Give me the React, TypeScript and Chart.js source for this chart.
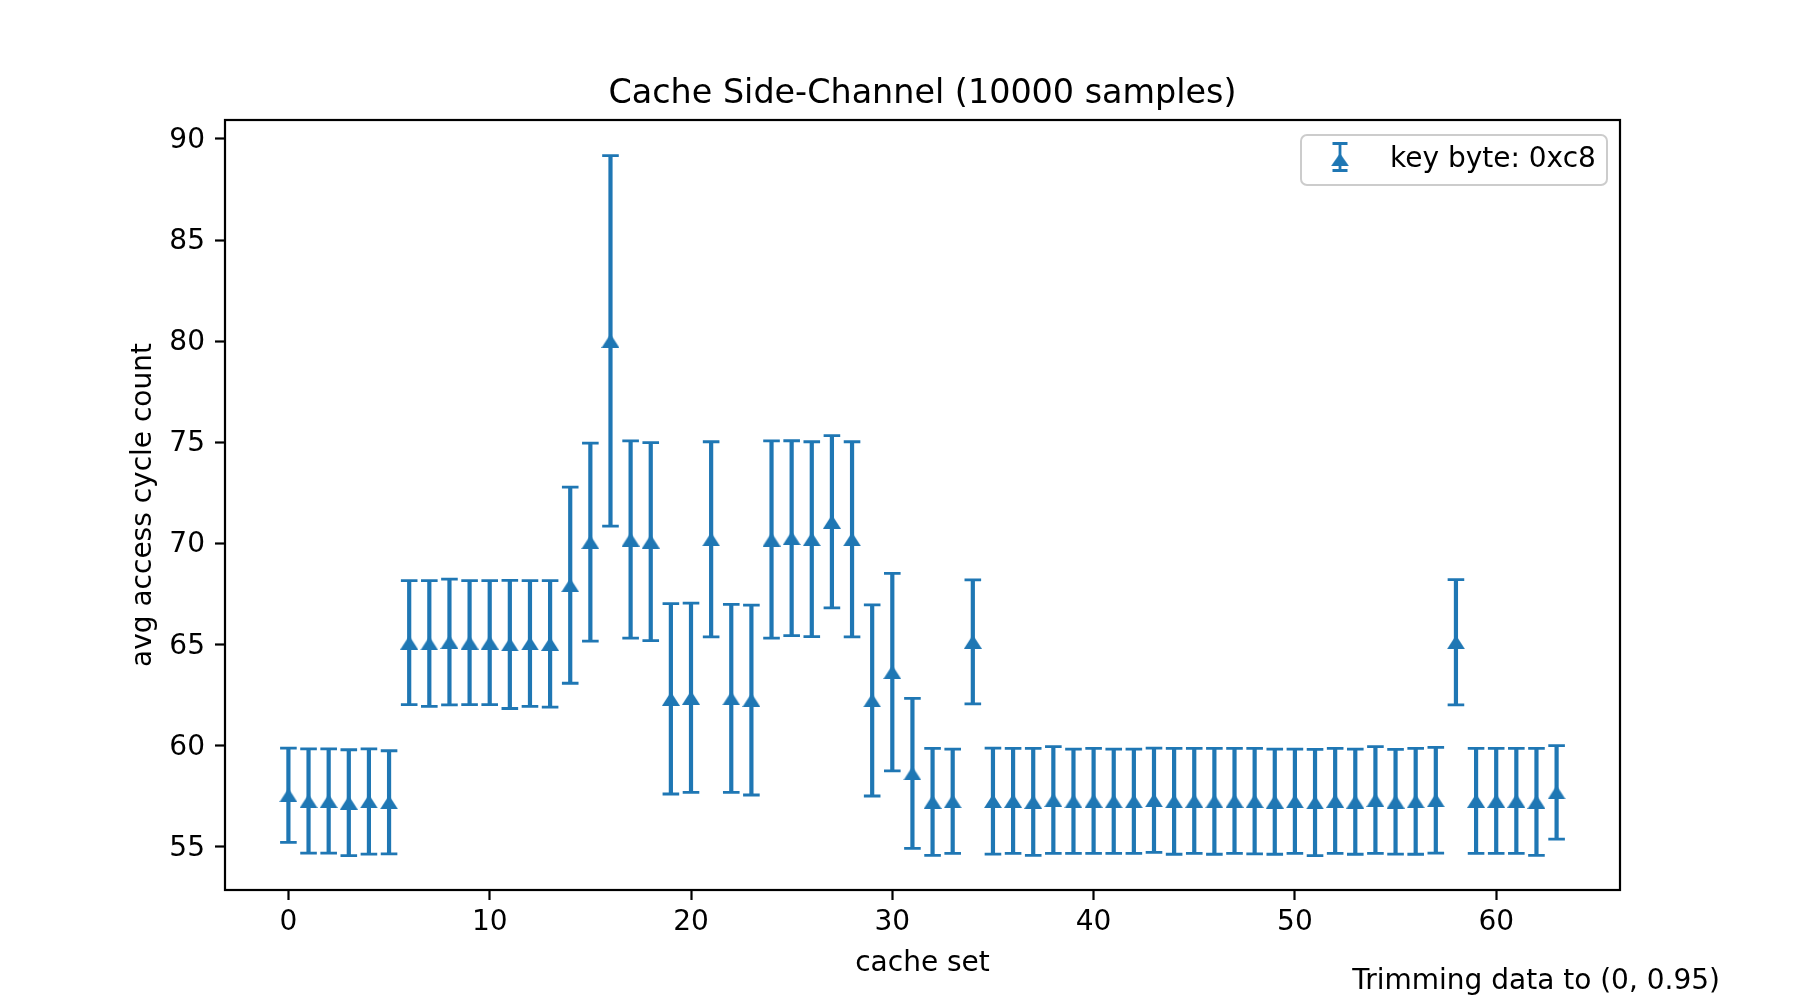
import React, { useEffect, useRef } from "react";
import { Chart, registerables } from "chart.js";

Chart.register(...registerables);

// ---------------- data ----------------
const cacheSets = [
  0, 1, 2, 3, 4, 5, 6, 7, 8, 9, 10, 11, 12, 13, 14, 15,
  16, 17, 18, 19, 20, 21, 22, 23, 24, 25, 26, 27, 28, 29, 30, 31,
  32, 33, 34, 35, 36, 37, 38, 39, 40, 41, 42, 43, 44, 45, 46, 47,
  48, 49, 50, 51, 52, 53, 54, 55, 56, 57, 58, 59, 60, 61, 62, 63,
];

const avgCycles = [
  57.53, 57.24, 57.24, 57.16, 57.22, 57.18, 65.08, 65.04,
  65.11, 65.08, 65.08, 64.99, 65.04, 65.02, 67.92, 70.05,
  80.01, 70.18, 70.08, 62.30, 62.35, 70.19, 62.32, 62.24,
  70.18, 70.25, 70.20, 71.06, 70.19, 62.22, 63.62, 58.61,
  57.20, 57.23, 65.12, 57.24, 57.25, 57.20, 57.29, 57.23,
  57.25, 57.23, 57.23, 57.28, 57.23, 57.25, 57.23, 57.25,
  57.24, 57.21, 57.23, 57.17, 57.25, 57.21, 57.29, 57.21,
  57.23, 57.28, 65.10, 57.25, 57.25, 57.25, 57.20, 57.67,
];

const errCycles = [
  2.33, 2.58, 2.58, 2.62, 2.60, 2.55, 3.07, 3.11,
  3.11, 3.07, 3.07, 3.17, 3.11, 3.13, 4.85, 4.90,
  9.17, 4.88, 4.90, 4.71, 4.68, 4.83, 4.65, 4.70,
  4.88, 4.82, 4.82, 4.26, 4.83, 4.73, 4.89, 3.71,
  2.65, 2.58, 3.07, 2.62, 2.60, 2.65, 2.64, 2.58,
  2.60, 2.58, 2.58, 2.58, 2.62, 2.60, 2.62, 2.60,
  2.61, 2.60, 2.58, 2.63, 2.60, 2.60, 2.64, 2.59,
  2.62, 2.62, 3.10, 2.60, 2.60, 2.60, 2.65, 2.31,
];

const xTickValues = [0, 10, 20, 30, 40, 50, 60];
const yTickValues = [55, 60, 65, 70, 75, 80, 85, 90];

const titleText = "Cache Side-Channel (10000 samples)";
const xLabel = "cache set";
const yLabel = "avg access cycle count";
const legendLabel = "key byte: 0xc8";
const footerText = "Trimming data to (0, 0.95)";

// ---------------- styles ----------------
const BLUE = "#1f77b4";
const FAMILY = "'DejaVu Sans', sans-serif";
const TICK_SIZE = 28;
const TITLE_SIZE = 33.4;

function makeTriangle(w: number, h: number): HTMLCanvasElement {
  const c = document.createElement("canvas");
  c.width = w;
  c.height = h;
  const g = c.getContext("2d")!;
  g.fillStyle = BLUE;
  g.beginPath();
  g.moveTo(w / 2, 0);
  g.lineTo(w, h);
  g.lineTo(0, h);
  g.closePath();
  g.fill();
  return c;
}

function drawErrorBar(
  ctx: CanvasRenderingContext2D,
  px: number,
  top: number,
  bot: number,
  capHalf: number,
  stemWidth: number
) {
  ctx.lineWidth = stemWidth;
  ctx.beginPath();
  ctx.moveTo(px, top);
  ctx.lineTo(px, bot);
  ctx.stroke();
  ctx.lineWidth = 2.8;
  ctx.beginPath();
  ctx.moveTo(px - capHalf, top);
  ctx.lineTo(px + capHalf, top);
  ctx.moveTo(px - capHalf, bot);
  ctx.lineTo(px + capHalf, bot);
  ctx.stroke();
}

export default function App() {
  const ref = useRef<HTMLCanvasElement | null>(null);

  useEffect(() => {
    document.body.style.margin = "0";
    const canvas = ref.current;
    if (!canvas) return;
    const tri = makeTriangle(18, 14);
    const legendTri = makeTriangle(18, 13);

    const overlay = {
      id: "errorbarsAndDecor",
      beforeDatasetsDraw(chart: any) {
        const { ctx, scales } = chart;
        const xs = scales.x;
        const ys = scales.y;
        ctx.save();
        ctx.strokeStyle = BLUE;
        ctx.lineCap = "butt";
        cacheSets.forEach((cs, i) => {
          const px = xs.getPixelForValue(cs);
          const top = ys.getPixelForValue(avgCycles[i] + errCycles[i]);
          const bot = ys.getPixelForValue(avgCycles[i] - errCycles[i]);
          drawErrorBar(ctx, px, top, bot, 8.3, 4.2);
        });
        ctx.restore();
      },
      afterDraw(chart: any) {
        const { ctx, chartArea } = chart;
        ctx.save();
        // frame
        ctx.strokeStyle = "#000";
        ctx.lineWidth = 2.2;
        ctx.strokeRect(
          chartArea.left,
          chartArea.top,
          chartArea.right - chartArea.left,
          chartArea.bottom - chartArea.top
        );

        // title
        ctx.fillStyle = "#000";
        ctx.font = `${TITLE_SIZE}px ${FAMILY}`;
        ctx.textAlign = "center";
        ctx.textBaseline = "alphabetic";
        ctx.fillText(titleText, (chartArea.left + chartArea.right) / 2, chartArea.top - 17);

        // legend
        const lx = chartArea.right - 319;
        const ly = chartArea.top + 15;
        const lw = 306;
        const lh = 50;
        ctx.beginPath();
        ctx.roundRect(lx, ly, lw, lh, 6);
        ctx.fillStyle = "rgba(255,255,255,0.8)";
        ctx.fill();
        ctx.strokeStyle = "#cccccc";
        ctx.lineWidth = 2;
        ctx.stroke();
        const gx = lx + 39;
        ctx.strokeStyle = BLUE;
        drawErrorBar(ctx, gx, ly + 8.5, ly + 35.5, 7.5, 2.8);
        ctx.drawImage(legendTri, gx - legendTri.width / 2, ly + 24.7 - legendTri.height / 2);
        ctx.fillStyle = "#000";
        ctx.font = `${TICK_SIZE}px ${FAMILY}`;
        ctx.textAlign = "left";
        ctx.fillText(legendLabel, lx + 89, ly + 32);

        // footer
        ctx.textAlign = "right";
        ctx.fillText(footerText, 1720, 989);
        ctx.restore();
      },
    };

    const chart = new Chart(canvas, {
      type: "scatter",
      data: {
        datasets: [
          {
            label: legendLabel,
            data: cacheSets.map((cs, i) => ({ x: cs, y: avgCycles[i] })),
            pointStyle: tri as any,
            pointRadius: 9,
            pointHoverRadius: 9,
            backgroundColor: BLUE,
            borderColor: BLUE,
            showLine: false,
          },
        ],
      },
      options: {
        responsive: false,
        animation: false,
        devicePixelRatio: 1,
        events: [],
        layout: { padding: { top: 120, right: 180, left: 0, bottom: 0 } },
        plugins: {
          legend: { display: false },
          title: { display: false },
          tooltip: { enabled: false },
        },
        scales: {
          x: {
            type: "linear",
            position: "bottom",
            min: -3.15,
            max: 66.15,
            afterBuildTicks: (s: any) => {
              s.ticks = xTickValues.map((v) => ({ value: v }));
            },
            afterFit: (s: any) => {
              s.height = 110;
            },
            grid: {
              display: true,
              drawOnChartArea: false,
              drawTicks: true,
              tickLength: 10,
              tickWidth: 2.2,
              tickColor: "#000",
            },
            border: { display: false },
            ticks: {
              font: { family: FAMILY, size: TICK_SIZE },
              color: "#000",
              padding: 6,
              maxRotation: 0,
              autoSkip: false,
            },
            title: {
              display: true,
              text: xLabel,
              font: { family: FAMILY, size: TICK_SIZE },
              color: "#000",
              padding: { top: 0, bottom: 19 },
            },
          },
          y: {
            type: "linear",
            position: "left",
            min: 52.84,
            max: 90.94,
            afterBuildTicks: (s: any) => {
              s.ticks = yTickValues.map((v) => ({ value: v }));
            },
            afterFit: (s: any) => {
              s.width = 225;
            },
            grid: {
              display: true,
              drawOnChartArea: false,
              drawTicks: true,
              tickLength: 10,
              tickWidth: 2.2,
              tickColor: "#000",
            },
            border: { display: false },
            ticks: {
              font: { family: FAMILY, size: TICK_SIZE, lineHeight: "4px" },
              color: "#000",
              padding: 10,
              autoSkip: false,
              callback: (v: any) => ["", String(v)],
            },
            title: {
              display: true,
              text: yLabel,
              font: { family: FAMILY, size: TICK_SIZE },
              color: "#000",
              padding: { top: 127, bottom: 0 },
            },
          },
        },
      },
      plugins: [overlay],
    });

    return () => {
      chart.destroy();
    };
  }, []);

  return (
    <div style={{ width: 1800, height: 1000, background: "#fff" }}>
      <canvas
        ref={ref}
        width={1800}
        height={1000}
        style={{ display: "block", width: 1800, height: 1000 }}
      />
    </div>
  );
}
